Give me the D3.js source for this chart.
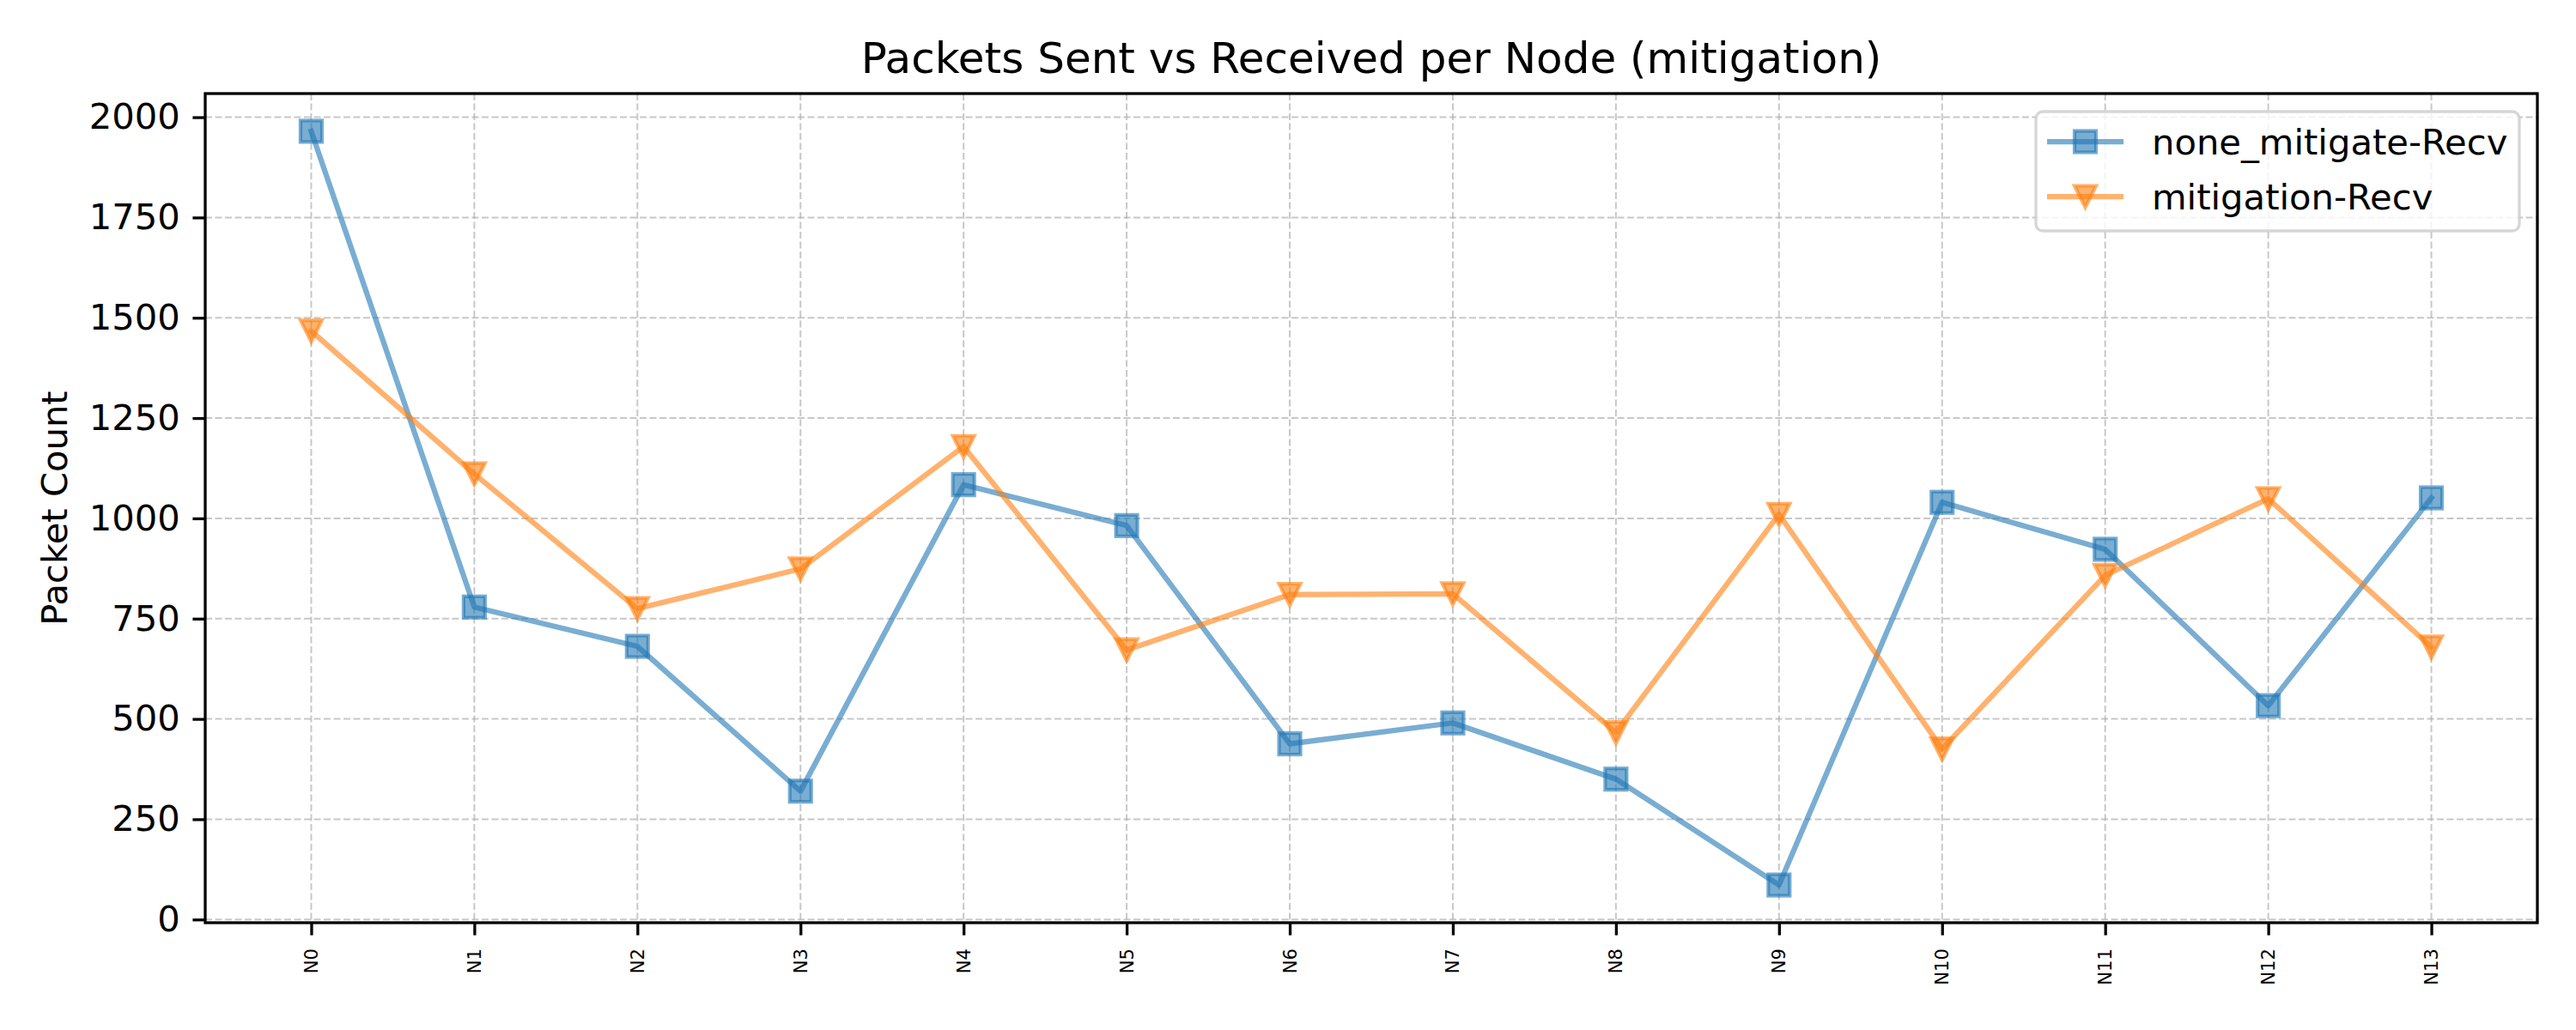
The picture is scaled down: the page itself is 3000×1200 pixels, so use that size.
<!DOCTYPE html>
<html lang="en">
<head>
    <meta charset="utf-8">
    <title>Packets Sent vs Received per Node (mitigation)</title>
    <script src="https://d3js.org/d3.v7.min.js"></script>
    <style>
        body { margin: 0; background: #fff; }
        text { font-family: "DejaVu Sans", sans-serif; }
    </style>
</head>

<body>
<svg width="3000" height="1200"></svg>
<script>
    // data
    var nodes = ["N0","N1","N2","N3","N4","N5","N6","N7","N8","N9","N10","N11","N12","N13"];
    var noneMitigateRecv = [1965, 779, 681, 320, 1084, 982, 438, 490, 350, 86, 1040, 923, 533, 1051];
    var mitigationRecv   = [1467, 1111, 775, 874, 1179, 672, 810, 812, 466, 1010, 425, 858, 1049, 679];
    var yTicks = [0, 250, 500, 750, 1000, 1250, 1500, 1750, 2000];
    var seriesNames = ["none_mitigate-Recv", "mitigation-Recv"];

    var marge = {top:109, bottom:125, left:239, right:45};
    var svg = d3.select("svg");
    var width = +svg.attr("width");
    var height = +svg.attr("height");
    var innerW = width - marge.left - marge.right;
    var innerH = height - marge.top - marge.bottom;

    var g = svg.append("g")
        .attr("transform","translate("+marge.left+","+marge.top+")");

    // matplotlib style 5% margins
    var xScale = d3.scaleLinear()
        .domain([-0.65, nodes.length - 1 + 0.65])
        .range([0, innerW]);
    var allVals = noneMitigateRecv.concat(mitigationRecv);
    var lo = d3.min(allVals), hi = d3.max(allVals), pad = (hi - lo) * 0.05;
    var yScale = d3.scaleLinear()
        .domain([lo - pad, hi + pad])
        .range([innerH, 0]);

    // grid
    var grid = g.append("g");
    grid.selectAll(".gx").data(d3.range(nodes.length)).enter().append("line")
        .attr("x1", function(d){ return xScale(d); })
        .attr("x2", function(d){ return xScale(d); })
        .attr("y1", 0).attr("y2", innerH);
    grid.selectAll(".gy").data(yTicks).enter().append("line")
        .attr("x1", 0).attr("x2", innerW)
        .attr("y1", function(d){ return yScale(d); })
        .attr("y2", function(d){ return yScale(d); });
    grid.selectAll("line")
        .attr("stroke", "#b0b0b0")
        .attr("stroke-opacity", 0.7)
        .attr("stroke-width", 2)
        .attr("stroke-dasharray", "8,3.5");

    // axes
    var xAxis = d3.axisBottom(xScale)
        .tickValues(d3.range(nodes.length))
        .tickFormat(function(i){ return nodes[i]; })
        .tickSize(14.6).tickPadding(14.6).tickSizeOuter(0);
    var yAxis = d3.axisLeft(yScale)
        .tickValues(yTicks)
        .tickFormat(d3.format("d"))
        .tickSize(14.6).tickPadding(14.6).tickSizeOuter(0);

    var gx = g.append("g")
        .attr("transform","translate(0,"+innerH+")")
        .call(xAxis);
    gx.select(".domain").remove();
    gx.selectAll(".tick line").attr("stroke","#000").attr("stroke-width",3.3);
    gx.selectAll(".tick text")
        .attr("font-size", 21)
        .attr("fill", "#000")
        .attr("y", 0).attr("dy", null)
        .attr("text-anchor", "end")
        .attr("dominant-baseline", "central")
        .attr("transform", "translate(0,"+(14.6+14.6+1)+") rotate(-90)");

    var gy = g.append("g").call(yAxis);
    gy.select(".domain").remove();
    gy.selectAll(".tick line").attr("stroke","#000").attr("stroke-width",3.3);
    gy.selectAll(".tick text").attr("font-size", 41.7).attr("fill", "#000");

    // series
    var series = [
        {name: seriesNames[0], values: noneMitigateRecv, color: "#1f77b4", marker: "square"},
        {name: seriesNames[1], values: mitigationRecv, color: "#ff7f0e", marker: "tri"}
    ];

    var line = d3.line()
        .x(function(d,i){ return xScale(i); })
        .y(function(d){ return yScale(d); });

    function drawMarker(sel, kind, color) {
        if (kind === "square") {
            sel.append("rect")
                .attr("x", -12.5).attr("y", -12.5)
                .attr("width", 25).attr("height", 25);
        } else {
            sel.append("path").attr("d", "M-12.5,-12.5L12.5,-12.5L0,12.5Z");
        }
        sel.selectAll("rect,path")
            .attr("fill", color).attr("fill-opacity", 0.6)
            .attr("stroke", color).attr("stroke-opacity", 0.6)
            .attr("stroke-width", 4.2)
            .attr("stroke-linejoin", "miter");
    }

    series.forEach(function(s){
        var sg = g.append("g");
        sg.append("path")
            .datum(s.values)
            .attr("d", line)
            .attr("fill", "none")
            .attr("stroke", s.color)
            .attr("stroke-opacity", 0.6)
            .attr("stroke-width", 6.25)
            .attr("stroke-linejoin", "round")
            .attr("stroke-linecap", "square");
        sg.selectAll(".m").data(s.values).enter().append("g")
            .attr("transform", function(d,i){ return "translate("+xScale(i)+","+yScale(d)+")"; })
            .each(function(){ drawMarker(d3.select(this), s.marker, s.color); });
    });

    // spines
    g.append("rect")
        .attr("x", 0).attr("y", 0)
        .attr("width", innerW).attr("height", innerH)
        .attr("fill", "none").attr("stroke", "#000").attr("stroke-width", 3.3);

    // title and y label
    svg.append("text")
        .attr("x", marge.left + innerW/2).attr("y", 85)
        .attr("text-anchor", "middle")
        .attr("font-size", 50)
        .text("Packets Sent vs Received per Node (mitigation)");
    svg.append("text")
        .attr("transform", "translate(78,"+(marge.top + innerH/2)+") rotate(-90)")
        .attr("text-anchor", "middle")
        .attr("font-size", 41.7)
        .text("Packet Count");

    // legend
    var lg = svg.append("g").attr("transform", "translate(2371,130)");
    lg.append("rect")
        .attr("width", 563).attr("height", 139)
        .attr("rx", 8).attr("ry", 8)
        .attr("fill", "#fff").attr("fill-opacity", 0.8)
        .attr("stroke", "#cccccc").attr("stroke-opacity", 0.8)
        .attr("stroke-width", 3.3);
    series.forEach(function(s, i){
        var row = lg.append("g").attr("transform", "translate(0,"+(35 + i*64)+")");
        row.append("line")
            .attr("x1", 13).attr("x2", 102)
            .attr("stroke", s.color).attr("stroke-opacity", 0.6)
            .attr("stroke-width", 6.25);
        var mg = row.append("g").attr("transform", "translate(57.5,0)");
        drawMarker(mg, s.marker, s.color);
        row.append("text")
            .attr("x", 135).attr("dy", "0.36em")
            .attr("font-size", 41.7)
            .text(s.name);
    });
</script>
</body>

</html>
